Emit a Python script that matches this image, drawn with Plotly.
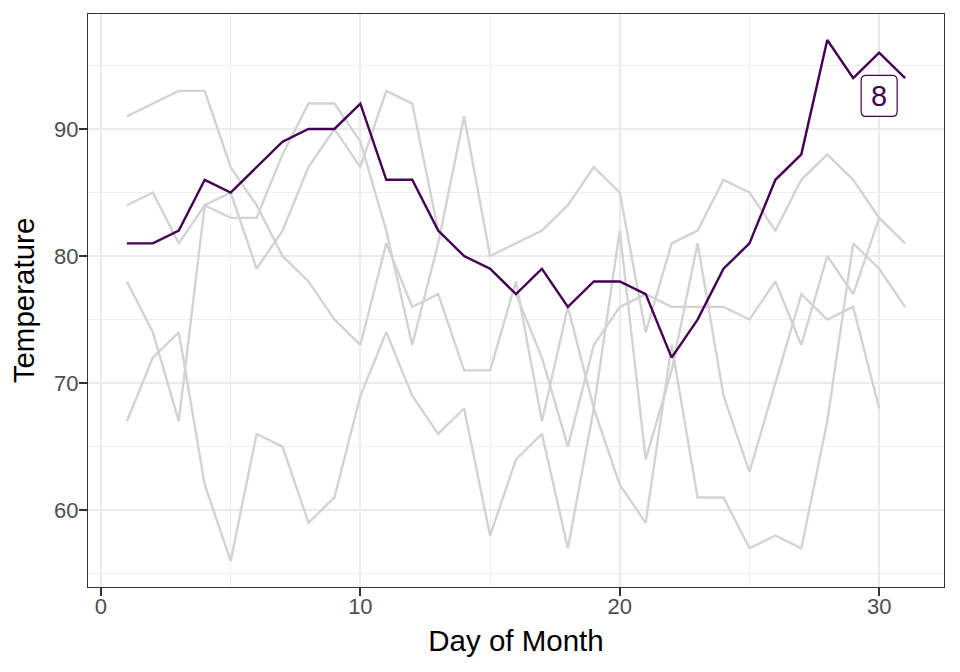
import plotly.graph_objects as go

days31 = list(range(1, 32))
days30 = list(range(1, 31))

temp_may = [67, 72, 74, 62, 56, 66, 65, 59, 61, 69, 74, 69, 66, 68, 58, 64, 66, 57, 68, 62,
            59, 73, 61, 61, 57, 58, 57, 67, 81, 79, 76]
temp_jun = [78, 74, 67, 84, 85, 79, 82, 87, 90, 87, 93, 92, 82, 80, 79, 77, 72, 65, 73, 76,
            77, 76, 76, 76, 75, 78, 73, 80, 77, 83]
temp_jul = [84, 85, 81, 84, 83, 83, 88, 92, 92, 89, 82, 73, 81, 91, 80, 81, 82, 84, 87, 85,
            74, 81, 82, 86, 85, 82, 86, 88, 86, 83, 81]
temp_aug = [81, 81, 82, 86, 85, 87, 89, 90, 90, 92, 86, 86, 82, 80, 79, 77, 79, 76, 78, 78,
            77, 72, 75, 79, 81, 86, 88, 97, 94, 96, 94]
temp_sep = [91, 92, 93, 93, 87, 84, 80, 78, 75, 73, 81, 76, 77, 71, 71, 78, 67, 76, 68, 82,
            64, 71, 81, 69, 63, 70, 77, 75, 76, 68]

label_text = "8"
label_x = 30
label_y = 92.6

x_ticks = [0, 10, 20, 30]
x_minor = [5, 15, 25]
y_ticks = [60, 70, 80, 90]
y_minor = [55, 65, 75, 85, 95]

gray = "#D3D3D3"
purple = "#440154"
FONT = "Liberation Sans, Arial, sans-serif"

fig = go.Figure()
for d, t in [(days31, temp_may), (days30, temp_jun), (days31, temp_jul), (days30, temp_sep)]:
    fig.add_trace(go.Scatter(x=d, y=t, mode="lines", line=dict(color=gray, width=2.4),
                             showlegend=False, hoverinfo="skip"))
fig.add_trace(go.Scatter(x=days31, y=temp_aug, mode="lines", line=dict(color=purple, width=2.4),
                         showlegend=False))

# rounded label box (pixel-sized, anchored at the label's data position)
hw, hh, r = 18, 20.5, 5
box_path = (f"M {-hw + r},{-hh} L {hw - r},{-hh} Q {hw},{-hh} {hw},{-hh + r} "
            f"L {hw},{hh - r} Q {hw},{hh} {hw - r},{hh} L {-hw + r},{hh} "
            f"Q {-hw},{hh} {-hw},{hh - r} L {-hw},{-hh + r} Q {-hw},{-hh} {-hw + r},{-hh} Z")
fig.add_shape(type="path", xref="x", yref="y", xsizemode="pixel", ysizemode="pixel",
              xanchor=label_x, yanchor=label_y, path=box_path,
              line=dict(color=purple, width=1.2), fillcolor="white", layer="above")

fig.add_annotation(x=label_x, y=label_y, text=label_text, showarrow=False,
                   font=dict(family=FONT, size=29, color=purple))

axis_common = dict(
    showline=True, linecolor="#333333", linewidth=1.4, mirror=True,
    ticks="outside", ticklen=8, tickcolor="#333333", tickwidth=2,
    tickfont=dict(family=FONT, size=22, color="#4D4D4D"),
    showgrid=True, gridcolor="#EBEBEB", gridwidth=2.4, zeroline=False,
    title_font=dict(family=FONT, size=29.5, color="black"),
    automargin=False,
)

fig.update_xaxes(range=[-0.5, 32.5], tickvals=x_ticks, title_text="Day of Month",
                 title_standoff=12, ticklabelstandoff=-9,
                 minor=dict(tickvals=x_minor, showgrid=True, gridcolor="#EFEFEF", gridwidth=1.2, ticks=""),
                 **axis_common)
fig.update_yaxes(range=[53.95, 99.05], tickvals=y_ticks, title_text="Temperature",
                 title_standoff=10, ticklabelstandoff=-4,
                 minor=dict(tickvals=y_minor, showgrid=True, gridcolor="#EFEFEF", gridwidth=1.2, ticks=""),
                 **axis_common)

fig.update_layout(width=960, height=672, plot_bgcolor="white", paper_bgcolor="white",
                  margin=dict(l=88, r=16, t=14, b=85),
                  font=dict(family=FONT))

fig.write_html("out.html", config={"displayModeBar": False},
               post_script="document.body.style.margin='0';document.body.style.padding='0';")
